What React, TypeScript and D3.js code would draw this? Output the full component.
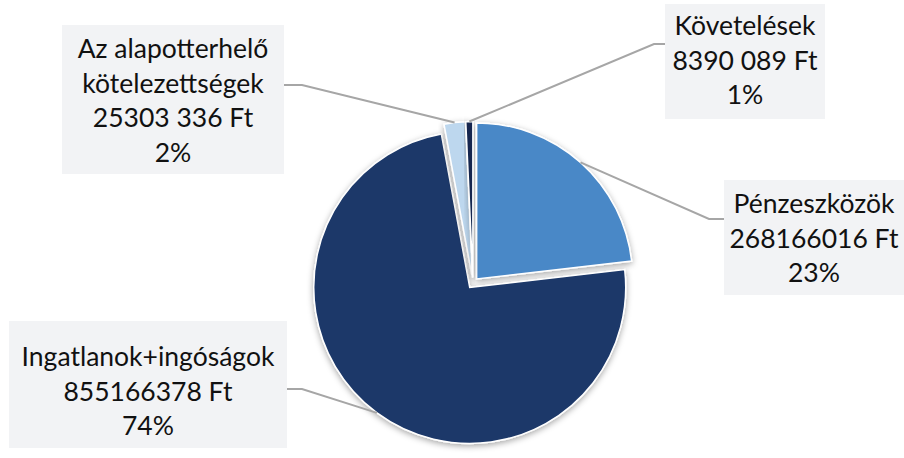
import React from "react";
import * as d3 from "d3";

const categories = ["Pénzeszközök", "Ingatlanok+ingóságok", "Az alapotterhelő kötelezettségek", "Követelések"];
const values = [268166016, 855166378, 25303336, 8390089];
const valueLabels = ["268166016 Ft", "855166378 Ft", "25303 336 Ft", "8390 089 Ft"];
const percentLabels = ["23%", "74%", "2%", "1%"];
const nameLines = [["Pénzeszközök"], ["Ingatlanok+ingóságok"], ["Az alapotterhelő", "kötelezettségek"], ["Követelések"]];
const colors = ["#4a88c7", "#1c3869", "#bdd7ee", "#13284f"];

const W = 904, H = 458;
const CX = 473, CY = 283, R = 156, EXPLODE = 5.5;

// label boxes: x, y, w, h, first baseline, elbow point, box attach point
const boxes = [
  { x: 724, y: 180, w: 180, h: 115, base: 213, elbow: [709, 219], attach: [724, 219] },
  { x: 9, y: 321, w: 278, h: 127, base: 366, elbow: [302, 389], attach: [287, 389] },
  { x: 62, y: 25, w: 222, h: 149, base: 58, elbow: [302, 85], attach: [284, 85] },
  { x: 665, y: 4, w: 160, h: 115, base: 35, elbow: [654, 44], attach: [665, 44] },
];

export default function App() {
  const pie = d3.pie<number>().sort(null).value((d) => d).startAngle(0).endAngle(2 * Math.PI);
  const arcs = pie(values);
  const arc = d3.arc<d3.PieArcDatum<number>>().innerRadius(0).outerRadius(R);
  const edge = d3.arc<d3.PieArcDatum<number>>().innerRadius(R + EXPLODE).outerRadius(R + EXPLODE);
  const lineH = 34.5;

  return (
    <svg width={W} height={H} style={{ position: "absolute", left: 0, top: 0, background: "#fff" }}
      fontFamily="Lato, 'Open Sans', sans-serif">
      <defs>
        <filter id="sh" x="-20%" y="-20%" width="140%" height="140%">
          <feDropShadow dx="0" dy="2" stdDeviation="3" floodColor="#000" floodOpacity="0.35" />
        </filter>
      </defs>
      <g transform={`translate(${CX},${CY})`}>
        {arcs.map((a, i) => {
          const mid = (a.startAngle + a.endAngle) / 2;
          const dx = Math.sin(mid) * EXPLODE, dy = -Math.cos(mid) * EXPLODE;
          return (
            <path key={i} d={arc(a) || ""} fill={colors[i]} stroke="#fff" strokeWidth={1.5}
              transform={`translate(${dx},${dy})`} filter="url(#sh)" />
          );
        })}
      </g>
      {arcs.map((a, i) => {
        const [px, py] = edge.centroid(a);
        const b = boxes[i];
        return (
          <polyline key={"l" + i} fill="none" stroke="#a6a6a6" strokeWidth={2}
            points={`${CX + px},${CY + py} ${b.elbow[0]},${b.elbow[1]} ${b.attach[0]},${b.attach[1]}`} />
        );
      })}
      {categories.map((c, i) => {
        const b = boxes[i];
        const lines = [...nameLines[i], valueLabels[i], percentLabels[i]];
        return (
          <g key={"b" + i}>
            <rect x={b.x} y={b.y} width={b.w} height={b.h} fill="#f2f3f5" />
            <text textAnchor="middle" fontSize={26.5} fill="#111">
              {lines.map((t, j) => (
                <tspan key={j} x={b.x + b.w / 2} y={b.base + j * lineH}>{t}</tspan>
              ))}
            </text>
          </g>
        );
      })}
    </svg>
  );
}
